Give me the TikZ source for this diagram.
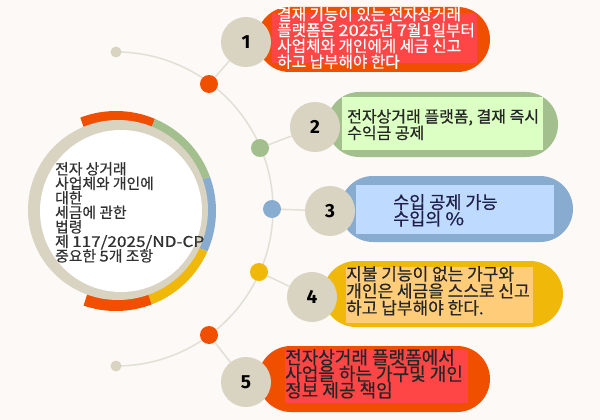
\documentclass[tikz,border=0pt]{standalone}
\usepackage{fontspec}
\setmainfont{Noto Sans CJK KR}[FakeBold=0.6]
\newfontfamily\latfont{Noto Sans CJK KR}[FakeBold=0.6, FakeStretch=1.16]
\newfontfamily\numfont{Fira Sans}
\newcommand{\lat}[1]{{\latfont #1}}
\definecolor{bg}{HTML}{FCF9F6}
\definecolor{sand}{HTML}{D9D3C2}
\definecolor{linegray}{HTML}{E3DFD5}
\definecolor{orangepill}{HTML}{F04F00}
\definecolor{redbox}{HTML}{FF4646}
\definecolor{greenpill}{HTML}{A2BF8D}
\definecolor{greenbox}{HTML}{DCFFC4}
\definecolor{bluepill}{HTML}{88ABD0}
\definecolor{bluebox}{HTML}{BEDBFF}
\definecolor{yellowpill}{HTML}{F0B90A}
\definecolor{yellowbox}{HTML}{FFCC7A}
\definecolor{ink}{HTML}{262626}
\newcommand{\txtsize}[2]{\fontsize{#1}{#2}\selectfont\lineskiplimit=-50pt}
\tikzset{
	dot/.style={circle, fill=#1, inner sep=0pt, minimum size=18pt},
	enddot/.style={circle, fill=sand, inner sep=0pt, minimum size=11pt},
	numcircle/.style={circle, fill=sand, inner sep=0pt, minimum size=50pt, font=\numfont\bfseries\fontsize{19}{19}\selectfont},
	link/.style={draw=linegray, line width=1.5pt},
	itemtext/.style={anchor=north west, inner sep=0pt, align=left, text=ink},
}
\begin{document}
\begin{tikzpicture}[x=1pt, y=-1pt]
	\fill[bg] (0,0) rectangle (600,420);
	\useasboundingbox (0,0) rectangle (600,420);
	
	%Timeline
	\draw[link] (116,209) ++(90:157pt) arc (90:-90:157pt);
	\node[enddot] (top) at (116,52) {};
	\node[enddot] (bottom) at (116,366) {};
	\node[dot=orangepill] (d1) at (209,84) {};
	\node[dot=greenpill] (d2) at (260,148) {};
	\node[dot=bluepill] (d3) at (272,209) {};
	\node[dot=yellowpill] (d4) at (259,272) {};
	\node[dot=orangepill] (d5) at (209,335) {};
	
	%Ring
	\def\r{94pt}
	\draw[orangepill, line width=12pt] (116,211) ++(111:\r) arc (111:67:\r);
	\draw[greenpill, line width=12pt] (116,211) ++(67:\r) arc (67:20:\r);
	\draw[bluepill, line width=12pt] (116,211) ++(20:\r) arc (20:-24:\r);
	\draw[yellowpill, line width=12pt] (116,211) ++(-24:\r) arc (-24:-69:\r);
	\draw[orangepill, line width=12pt] (116,211) ++(-69:\r) arc (-69:-109:\r);
	\fill[sand] (118,210) circle (90pt);
	\fill[white] (121,211) circle (81pt);
	\node[itemtext, text=ink!95, font=\txtsize{14.8}{14.5}] (title) at (55,162)
		{전자 상거래\\사업체와 개인에\\대한\\세금에 관한\\법령\\제 \lat{117/2025/ND-CP}\\중요한 \lat{5}개 조항};
	
	%Point 1
	\fill[orangepill, rounded corners=32.5pt] (257,7) rectangle (490,72);
	\fill[redbox] (272,13) rectangle (477,63);
	\node[itemtext, text=white, font=\txtsize{15.7}{15.8}] (t1) at (277,7)
		{결재 기능이 있는 전자상거래\\플랫폼은 \lat{2025}년 \lat{7}월\lat{1}일부터\\사업체와 개인에게 세금 신고\\하고 납부해야 한다};
	\node[numcircle] (n1) at (246,42) {1};
	
	%Point 2
	\fill[greenpill, rounded corners=32.5pt] (327,92) rectangle (558,157);
	\fill[greenbox] (342,97) rectangle (543,150);
	\node[itemtext, font=\txtsize{16}{16.5}] (t2) at (347,109)
		{전자상거래 플랫폼, 결재 즉시\\수익금 공제};
	\node[numcircle] (n2) at (315,127) {2};
	
	%Point 3
	\fill[bluepill, rounded corners=33pt] (340,176) rectangle (573,242);
	\fill[bluebox] (356,185) rectangle (554,234);
	\node[itemtext, text=ink!85!blue, font=\txtsize{17.5}{16.5}] (t3) at (393,194)
		{수입 공제 가능\\수입의 \lat{\%}};
	\node[numcircle] (n3) at (330,211) {3};
	
	%Point 4
	\fill[yellowpill, rounded corners=33pt] (323,261) rectangle (563,327);
	\fill[yellowbox] (346,267) rectangle (533,323);
	\node[itemtext, font=\txtsize{17}{17}] (t4) at (346,266)
		{지불 기능이 없는 가구와\\개인은 세금을 스스로 신고\\하고 납부해야 한다.};
	\node[numcircle] (n4) at (312,297) {4};
	
	%Point 5
	\fill[orangepill, rounded corners=33pt] (258,346) rectangle (490,412);
	\fill[redbox] (285,350) rectangle (468,403);
	\node[itemtext, font=\txtsize{18}{16.5}] (t5) at (285,349)
		{전자상거래 플랫폼에서\\사업을 하는 가구및 개인\\정보 제공 책임};
	\node[numcircle] (n5) at (246,382) {5};
	
	%Links
	\draw[link] (d1) -- (n1);
	\draw[link] (d2) -- (n2);
	\draw[link] (d3) -- (n3);
	\draw[link] (d4) -- (n4);
	\draw[link] (d5) -- (n5);
\end{tikzpicture}
\end{document}
